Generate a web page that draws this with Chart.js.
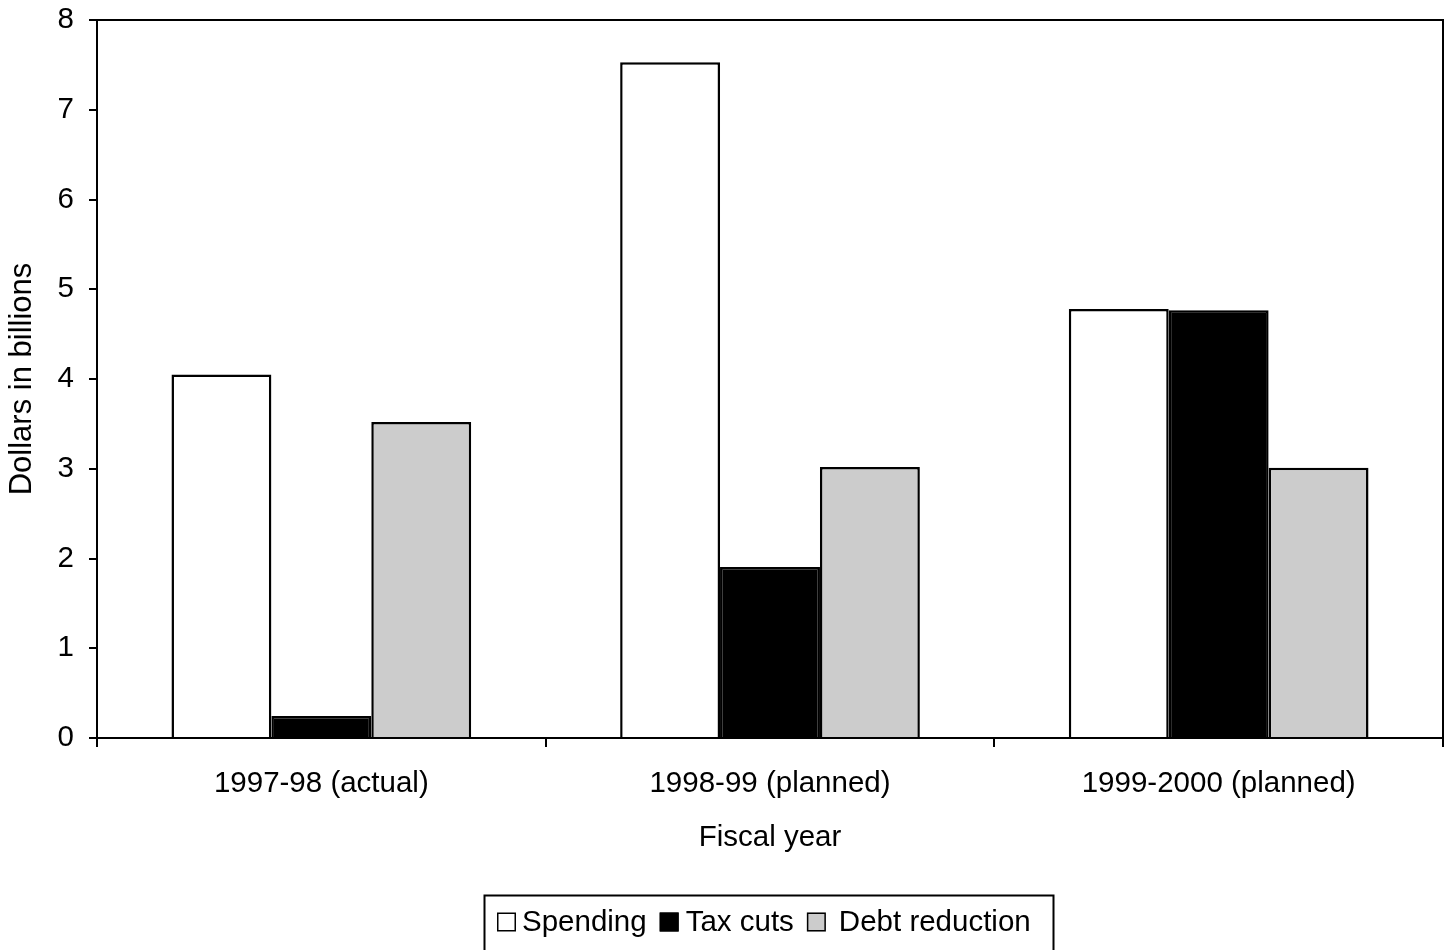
<!DOCTYPE html>
<html>
<head>
<meta charset="utf-8">
<script src="https://cdn.jsdelivr.net/npm/chart.js@4"></script>
<style>
  html, body { margin: 0; padding: 0; background: #ffffff; }
  #wrap { width: 1448px; height: 950px; position: relative; }
</style>
</head>
<body>
<div id="wrap"><canvas id="c" width="1448" height="950"></canvas></div>
<script>
// ---- data ----
const categories = ["1997-98 (actual)", "1998-99 (planned)", "1999-2000 (planned)"];
const seriesNames = ["Spending", "Tax cuts", "Debt reduction"];
const spending = [4.05, 7.53, 4.78];
const taxCuts = [0.245, 1.905, 4.765];
const debtReduction = [3.52, 3.02, 3.01];
const yTicks = [0, 1, 2, 3, 4, 5, 6, 7, 8];
const xTitle = "Fiscal year";
const yTitle = "Dollars in billions";

const FONT = "'Liberation Sans', Arial, Helvetica, sans-serif";
const fills = ["#ffffff", "#000000", "#cccccc"];

// frame on top/right of plot area
const framePlugin = {
  id: 'frame',
  afterDatasetsDraw(chart) {
    const {ctx, chartArea: a} = chart;
    ctx.save();
    ctx.strokeStyle = '#000';
    ctx.lineWidth = 2;
    ctx.beginPath();
    ctx.moveTo(a.left, a.top);
    ctx.lineTo(a.right, a.top);
    ctx.lineTo(a.right, a.bottom);
    ctx.stroke();
    ctx.restore();
  }
};

// boxed legend below the chart
const boxLegendPlugin = {
  id: 'boxLegend',
  afterDraw(chart) {
    const ctx = chart.ctx;
    const boxL = 484, boxR = 1053, boxT = 895;
    const cy = 922, sq = 19;
    const textGaps = [6, 7, 13];
    const itemGap = 13;
    ctx.save();
    ctx.strokeStyle = '#000';
    ctx.lineWidth = 2;
    ctx.strokeRect(boxL + 0.5, boxT + 0.5, boxR - boxL, 80);
    ctx.font = "29.5px " + FONT;
    ctx.textBaseline = 'middle';
    ctx.textAlign = 'left';
    let x = boxL + 13;
    chart.data.datasets.forEach((ds, i) => {
      ctx.fillStyle = ds.backgroundColor;
      ctx.fillRect(x, cy - sq / 2, sq, sq);
      ctx.lineWidth = 1.5;
      ctx.strokeStyle = '#000';
      ctx.strokeRect(x + 0.75, cy - sq / 2 + 0.75, sq - 1.5, sq - 1.5);
      x += sq + textGaps[i];
      ctx.fillStyle = '#000';
      ctx.fillText(ds.label, x, cy + 1);
      x += ctx.measureText(ds.label).width + itemGap;
    });
    ctx.restore();
  }
};

const data = {
  labels: categories,
  datasets: [spending, taxCuts, debtReduction].map((vals, i) => ({
    label: seriesNames[i],
    data: vals,
    backgroundColor: fills[i],
    borderColor: '#000000',
    borderWidth: 2.5,
    borderSkipped: 'start',
    categoryPercentage: 0.668,
    barPercentage: 1.0
  }))
};

new Chart(document.getElementById('c'), {
  type: 'bar',
  data,
  plugins: [framePlugin, boxLegendPlugin],
  options: {
    responsive: false,
    animation: false,
    devicePixelRatio: 1,
    layout: { padding: { top: 20, right: 5, left: 0, bottom: 0 } },
    plugins: {
      legend: { display: false },
      tooltip: { enabled: false },
      title: { display: false }
    },
    scales: {
      x: {
        type: 'category',
        afterFit(scale) {
          scale.height = 212;
          scale.paddingLeft = 0; scale.paddingRight = 0;
        },
        grid: {
          display: true,
          offset: true,
          drawOnChartArea: false,
          drawTicks: true,
          tickLength: 9,
          color: '#000',
          lineWidth: 2
        },
        border: { display: true, color: '#000', width: 2 },
        ticks: {
          color: '#000',
          font: { family: FONT, size: 29.5 },
          padding: 19,
          maxRotation: 0,
          autoSkip: false
        },
        title: {
          display: true,
          text: xTitle,
          color: '#000',
          font: { family: FONT, size: 29.5 },
          padding: { top: 0, bottom: 94 }
        }
      },
      y: {
        min: yTicks[0],
        max: yTicks[yTicks.length - 1],
        afterFit(scale) {
          scale.width = 97;
          scale.paddingTop = 0; scale.paddingBottom = 0;
        },
        afterBuildTicks(scale) { scale.ticks = yTicks.map(v => ({ value: v })); },
        grid: {
          display: true,
          drawOnChartArea: false,
          drawTicks: true,
          tickLength: 8,
          color: '#000',
          lineWidth: 2
        },
        border: { display: true, color: '#000', width: 2 },
        ticks: {
          color: '#000',
          font: { family: FONT, size: 29.5 },
          padding: 15,
          stepSize: 1
        },
        title: {
          display: true,
          text: yTitle,
          color: '#000',
          font: { family: FONT, size: 31 },
          padding: { top: 4, bottom: 0 }
        }
      }
    }
  }
});
</script>
</body>
</html>
